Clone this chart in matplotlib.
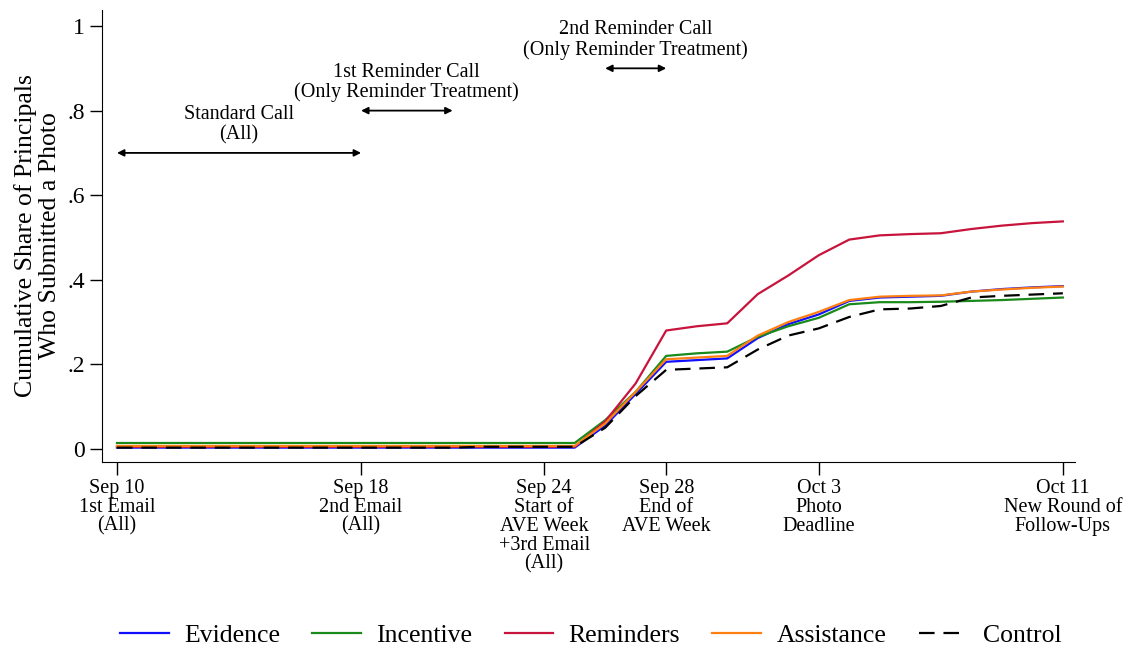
import matplotlib
matplotlib.use("Agg")
import matplotlib.pyplot as plt

plt.rcParams['font.family'] = ['Liberation Serif', 'DejaVu Serif']

# days since Sep 10 (Sep 10 .. Oct 11)
days = list(range(32))

evidence = [0.003] * 16 + [0.055, 0.13, 0.206, 0.21, 0.214, 0.262, 0.295, 0.318,
                           0.35, 0.358, 0.36, 0.362, 0.372, 0.378, 0.382, 0.385]
incentive = [0.014] * 16 + [0.068, 0.135, 0.22, 0.226, 0.23, 0.265, 0.29, 0.31,
                            0.342, 0.347, 0.347, 0.348, 0.35, 0.352, 0.355, 0.358]
reminders = [0.005] * 16 + [0.065, 0.155, 0.28, 0.29, 0.297, 0.366, 0.41, 0.458,
                            0.495, 0.505, 0.508, 0.51, 0.52, 0.528, 0.534, 0.538]
assistance = [0.007] * 16 + [0.06, 0.135, 0.212, 0.216, 0.22, 0.268, 0.3, 0.324,
                             0.352, 0.36, 0.362, 0.363, 0.372, 0.377, 0.381, 0.384]
control = [0.003] * 12 + [0.005] * 4 + [0.05, 0.125, 0.187, 0.19, 0.193, 0.235, 0.268, 0.285,
                                        0.312, 0.33, 0.332, 0.338, 0.358, 0.362, 0.365, 0.368]

tick_days = [0, 8, 14, 18, 23, 31]
tick_labels = ['Sep 10\n1st Email\n(All)', 'Sep 18\n2nd Email\n(All)',
               'Sep 24\nStart of\nAVE Week\n+3rd Email\n(All)', 'Sep 28\nEnd of\nAVE Week',
               'Oct 3\nPhoto\nDeadline', 'Oct 11\nNew Round of\nFollow-Ups']

# (start day, end day, level, label)
calls = [(0, 8, 0.7, 'Standard Call\n(All)'),
         (8, 11, 0.8, '1st Reminder Call\n(Only Reminder Treatment)'),
         (16, 18, 0.9, '2nd Reminder Call\n(Only Reminder Treatment)')]

fig = plt.figure(figsize=(11.25, 6.56), dpi=100)
ax = fig.add_axes([0.0907, 0.2957, 0.8649, 0.6891])

lw = 1.6
ax.plot(days, evidence, color='#1010ff', lw=lw, label='Evidence')
ax.plot(days, incentive, color='#1a8a1a', lw=lw, label='Incentive')
ax.plot(days, reminders, color='#c8143c', lw=lw, label='Reminders')
ax.plot(days, assistance, color='#ff8010', lw=lw, label='Assistance')
ax.plot(days, control, color='black', lw=lw, dashes=(7, 4), label='Control')

for d0, d1, lev, txt in calls:
    ax.annotate('', xy=(d0, lev), xytext=(d1, lev),
                arrowprops=dict(arrowstyle='<|-|>', color='black', lw=1.3,
                                mutation_scale=10, shrinkA=0, shrinkB=0))
    ax.text((d0 + d1) / 2, lev + 0.02, txt, ha='center', va='bottom',
            fontsize=14.5, linespacing=1.05)

ax.set_xlim(-0.49, 31.4)
ax.set_ylim(-0.031, 1.038)
ax.set_xticks(tick_days)
ax.set_xticklabels(tick_labels, fontsize=14.5, linespacing=1.0)
ax.set_yticks([0, 0.2, 0.4, 0.6, 0.8, 1])
ax.set_yticklabels(['0', '.2', '.4', '.6', '.8', '1'], fontsize=17)
ax.tick_params(axis='both', direction='out', length=9, width=1, colors='black')
ax.tick_params(axis='x', pad=3)
ax.spines['top'].set_visible(False)
ax.spines['right'].set_visible(False)
ax.set_ylabel('Cumulative Share of Principals\nWho Submitted a Photo', fontsize=18.5,
              linespacing=1.12, labelpad=4)

fig.legend(loc='lower center', ncol=5, frameon=False, fontsize=18.5,
           bbox_to_anchor=(0.525, -0.022), handlelength=1.9, columnspacing=1.25,
           handletextpad=0.6)

fig.savefig('out.png', dpi=100)
